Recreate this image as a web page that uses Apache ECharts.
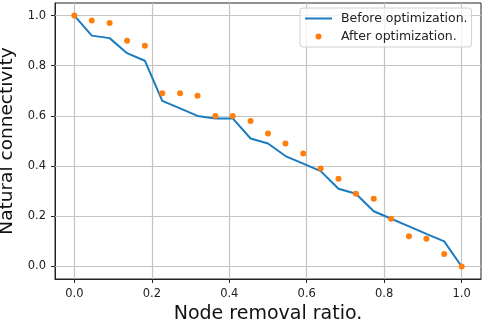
<!DOCTYPE html>
<html>
<head>
<meta charset="utf-8">
<script src="https://cdn.jsdelivr.net/npm/echarts@6/dist/echarts.min.js"></script>
<style>
  html, body { margin: 0; padding: 0; background: #fff; }
  #main { width: 484px; height: 323px; }
</style>
</head>
<body>
<div id="main"></div>
<script>
// node removal ratio (x)
var ratio = [0, 0.045, 0.091, 0.136, 0.182, 0.227, 0.273, 0.318, 0.364, 0.409, 0.455, 0.5,
             0.545, 0.591, 0.636, 0.682, 0.727, 0.773, 0.818, 0.864, 0.909, 0.955, 1.0];
var before = [1.0, 0.92, 0.91, 0.85, 0.82, 0.66, 0.63, 0.60, 0.59, 0.59, 0.51, 0.49,
              0.44, 0.41, 0.38, 0.31, 0.29, 0.22, 0.19, 0.16, 0.13, 0.10, 0.0];
var after = [1.0, 0.98, 0.97, 0.90, 0.88, 0.69, 0.69, 0.68, 0.60, 0.60, 0.58, 0.53,
             0.49, 0.45, 0.39, 0.35, 0.29, 0.27, 0.19, 0.12, 0.11, 0.05, 0.0];
var xTicks = [0, 0.2, 0.4, 0.6, 0.8, 1.0];
var yTicks = [0, 0.2, 0.4, 0.6, 0.8, 1.0];

var font = 'DejaVu Sans';
var ink = '#222';
var gridColor = '#c4c4c4';

function pairs(xs, ys) {
    return xs.map(function (x, i) { return [x, ys[i]]; });
}

// grid lines at the tick values (min/max are padded, so splitLine can't be used)
var gridLines = xTicks.map(function (v) { return { xAxis: v }; })
    .concat(yTicks.map(function (v) { return { yAxis: v }; }));

var myChart = echarts.init(document.getElementById('main'));

var option = {
    animation: false,
    grid: {
        left: 55, right: 3, top: 3, bottom: 44,
        outerBoundsMode: 'none',
        show: true, borderColor: ink, borderWidth: 1
    },
    legend: [
        {
            // line entry; its border box also wraps the dot entry below
            left: 300, top: 8,
            padding: [4, 4, 22, 5],
            icon: 'rect',
            itemWidth: 27, itemHeight: 2,
            borderColor: '#d0d0d0', borderWidth: 1, borderRadius: 3,
            backgroundColor: 'rgba(255,255,255,0.8)',
            textStyle: { fontFamily: font, fontSize: 12.5, color: ink, padding: [0, 0, 0, 4] },
            data: ['Before optimization.']
        },
        {
            left: 315.5, top: 30,
            padding: 0,
            icon: 'circle',
            itemWidth: 6, itemHeight: 6,
            textStyle: { fontFamily: font, fontSize: 12.5, color: ink, padding: [0, 0, 0, 14.5] },
            data: ['After optimization.'],
            z: 5
        }
    ],
    xAxis: {
        type: 'value',
        min: -0.05, max: 1.05,
        name: 'Node removal ratio.',
        nameLocation: 'middle',
        nameGap: 26,
        nameTextStyle: { fontFamily: font, fontSize: 19, color: '#111' },
        axisLine: { show: true, onZero: false, lineStyle: { color: ink, width: 1 } },
        axisTick: { show: true, length: 4, customValues: xTicks, lineStyle: { color: ink } },
        axisLabel: {
            customValues: xTicks, margin: 9,
            fontFamily: font, fontSize: 11.5, color: ink,
            formatter: function (v) { return v.toFixed(1); }
        },
        splitLine: { show: false }
    },
    yAxis: {
        type: 'value',
        min: -0.05, max: 1.05,
        name: 'Natural connectivity',
        nameLocation: 'middle',
        nameGap: 31,
        nameTextStyle: { fontFamily: font, fontSize: 18.5, color: '#111' },
        axisLine: { show: true, onZero: false, lineStyle: { color: ink, width: 1 } },
        axisTick: { show: true, length: 4, customValues: yTicks, lineStyle: { color: ink } },
        axisLabel: {
            customValues: yTicks, margin: 9,
            fontFamily: font, fontSize: 11.5, color: ink,
            formatter: function (v) { return v.toFixed(1); }
        },
        splitLine: { show: false }
    },
    series: [
        {
            name: 'Before optimization.',
            type: 'line',
            data: pairs(ratio, before),
            symbol: 'none',
            lineStyle: { color: '#1a7bbf', width: 2 },
            itemStyle: { color: '#1a7bbf' },
            z: 2,
            markLine: {
                silent: true,
                symbol: 'none',
                label: { show: false },
                lineStyle: { color: gridColor, width: 1.2, type: 'solid' },
                emphasis: { disabled: true },
                data: gridLines,
                z: 1
            }
        },
        {
            name: 'After optimization.',
            type: 'scatter',
            data: pairs(ratio, after),
            symbol: 'circle',
            symbolSize: 6,
            itemStyle: { color: '#ff7f0e', opacity: 1 },
            z: 3
        }
    ]
};

myChart.setOption(option);
</script>
</body>
</html>
